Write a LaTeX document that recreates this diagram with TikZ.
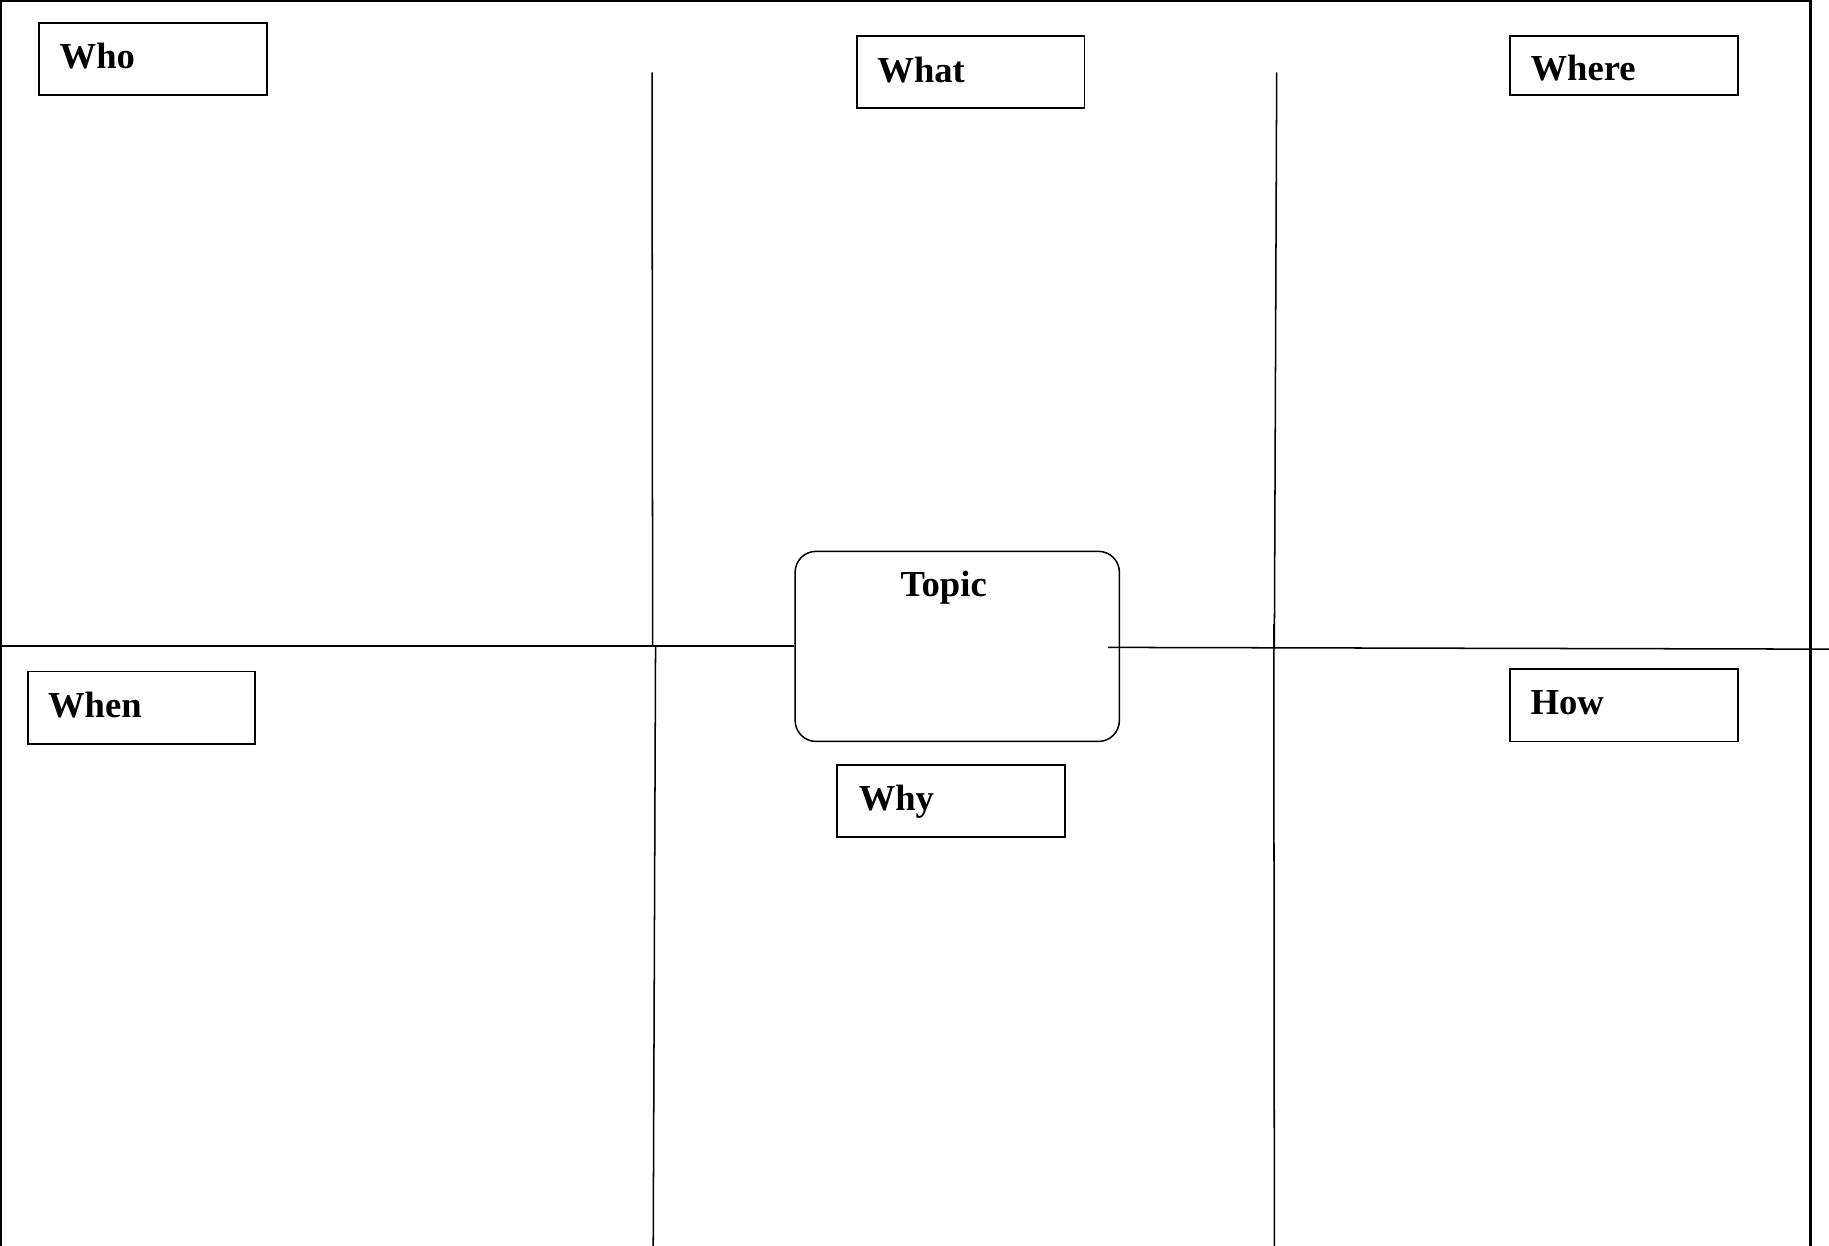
\documentclass[tikz,border=0pt]{standalone}
\usepackage{fontspec}
\setmainfont{Liberation Serif}
\begin{document}
\begin{tikzpicture}[x=1bp,y=-1bp,
  frameline/.style={line width=1.7bp},
  gridline/.style={line width=1.3bp},
  labelbox/.style={draw,line width=1.5bp,rectangle,anchor=north west,inner sep=0pt,minimum width=195bp},
  labeltext/.style={anchor=base west,inner sep=0pt,font=\fontsize{31.5}{36}\selectfont\bfseries},
  topicbox/.style={draw,line width=1.3bp,rectangle,rounded corners=18bp,anchor=north west,inner sep=0pt,minimum width=278bp,minimum height=163bp}]
\useasboundingbox (0,0) rectangle (1568,1068);
% frame
\coordinate (ftl) at (1,0);
\coordinate (fbl) at (1,1068);
\coordinate (ftl2) at (0,1);
\coordinate (ftr) at (1552,1);
\coordinate (rtop) at (1552,0);
\coordinate (rbot) at (1552,1068);
\draw[frameline] (ftl) -- (fbl);
\draw[frameline] (ftl2) -- (ftr);
\draw[line width=2.6bp] (rtop) -- (rbot);
% topic
\node[topicbox] (topic) at (681,472) {};
\node[labeltext,anchor=base] (topictxt) at (809,511.5) {Topic};
% horizontal lines
\coordinate (hl0) at (0,554);
\coordinate (hl1) at (681,554);
\coordinate (hr0) at (950,555);
\coordinate (hr1) at (1568,556.5);
\draw[gridline] (hl0) -- (hl1);
\draw[gridline] (hr0) -- (hr1);
% vertical lines
\coordinate (va0) at (559,62);
\coordinate (va1) at (559.5,554);
\coordinate (va2) at (562,554);
\coordinate (va3) at (560,1068);
\coordinate (vb0) at (1094.5,62);
\coordinate (vb1) at (1092.5,556);
\coordinate (vb2) at (1092,535);
\coordinate (vb3) at (1092.5,1068);
\draw[gridline] (va0) -- (va1);
\draw[gridline] (va2) -- (va3);
\draw[gridline] (vb0) -- (vb1);
\draw[gridline] (vb2) -- (vb3);
% label boxes
\node[labelbox,minimum height=62bp] (who) at (33,19) {};
\node[labeltext] (whotxt) at (51,59) {Who};
\node[labelbox,minimum height=62bp] (what) at (734,30) {};
\node[labeltext] (whattxt) at (752,70.5) {What};
\node[labelbox,minimum height=51bp] (where) at (1294,30) {};
\node[labeltext] (wheretxt) at (1312,68.6) {Where};
\node[labelbox,minimum height=62bp] (when) at (23,575) {};
\node[labeltext] (whentxt) at (41,615.5) {When};
\node[labelbox,minimum height=62bp] (how) at (1294,573) {};
\node[labeltext] (howtxt) at (1312,612.5) {How};
\node[labelbox,minimum height=62bp] (why) at (717,655) {};
\node[labeltext] (whytxt) at (736,695) {Why};
\end{tikzpicture}
\end{document}
